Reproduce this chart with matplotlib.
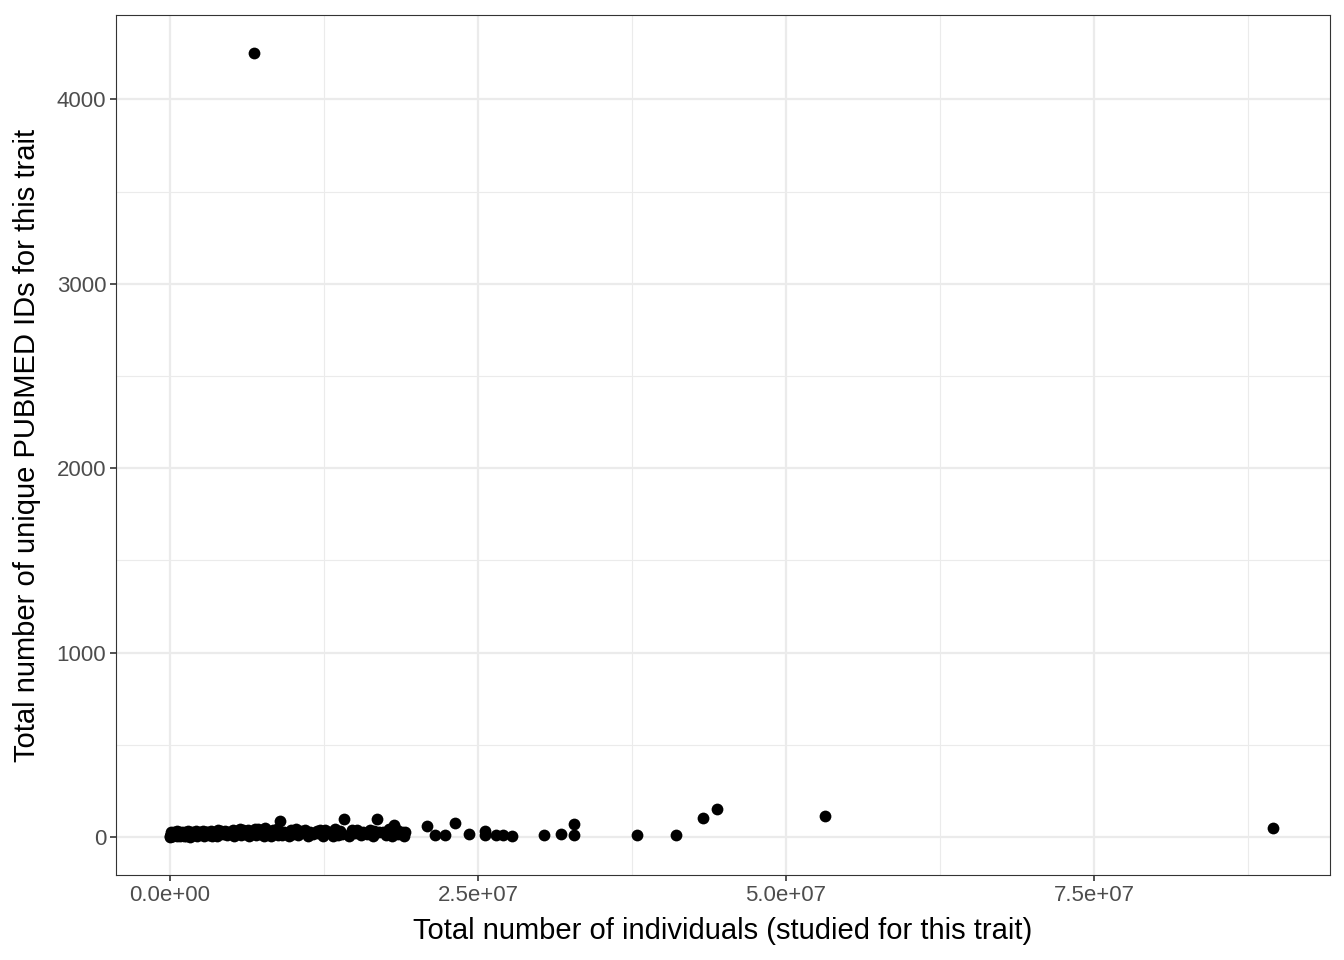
import matplotlib
matplotlib.use("Agg")
import matplotlib.pyplot as plt
from matplotlib.ticker import MultipleLocator

plt.rcParams['font.family'] = ['Liberation Sans', 'DejaVu Sans']

# total individuals (millions) and unique pubmed ids
# dense cluster near zero
BulkX = [0.0, 0.02, 0.05, 0.08, 0.1, 0.15, 0.2, 0.25, 0.3, 0.4, 0.5, 0.6, 0.7,
         0.8, 0.9, 1.0, 1.1, 1.2, 1.3, 1.4, 1.5, 1.6, 1.8, 2.0, 2.2, 2.4, 2.6,
         2.8, 3.0, 3.2, 3.4, 3.6, 3.8, 4.0, 4.3, 4.6, 4.9, 5.2, 5.5, 5.8, 6.1,
         6.4, 6.7, 7.0, 7.3, 7.6, 7.9, 8.2, 8.5, 8.8, 9.1, 9.4, 9.7, 10.0, 10.4,
         10.8, 11.2, 11.6, 12.0, 12.4, 12.8, 13.2, 13.6, 14.0, 14.5, 15.0, 15.5,
         16.0, 16.5, 17.0, 17.5, 18.0, 18.5, 19.0,
         0.05, 0.3, 0.6, 1.0, 1.5, 2.1, 2.7, 3.3, 3.9, 4.5, 5.1, 5.7, 6.3, 6.9,
         7.7, 8.4, 8.9, 10.2, 11.0, 11.9, 12.6, 13.4, 14.1, 15.2, 16.2, 16.8,
         18.2, 18.8,
         0.15, 0.45, 0.75, 1.25, 1.75, 2.3, 2.9, 3.5, 4.15, 4.75, 5.35, 5.95,
         6.55, 7.15, 7.45, 8.05, 8.65, 9.25, 9.85, 10.6, 11.4, 12.2, 13.0, 13.8,
         14.8, 15.7, 16.6, 17.3, 17.8, 18.4, 19.1]
BulkY = [2, 5, 10, 3, 18, 7, 12, 4, 20, 9, 14, 6, 22, 3, 11, 16, 8, 25, 5, 13,
         19, 2, 24, 10, 6, 28, 15, 4, 30, 12, 8, 22, 5, 27, 14, 9, 20, 6, 31, 12,
         18, 4, 26, 10, 15, 7, 21, 3, 28, 12, 9, 24, 6, 17, 11, 30, 4, 14, 20, 8,
         25, 6, 13, 18, 5, 22, 10, 15, 7, 27, 12, 4, 19, 8,
         30, 28, 32, 30, 34, 31, 35, 33, 36, 32, 38, 45, 40, 42, 48, 40, 85, 44,
         38, 35, 40, 42, 100, 38, 38, 100, 65, 30,
         22, 18, 26, 20, 28, 24, 30, 26, 33, 25, 35, 38, 30, 44, 36, 32, 42, 30,
         38, 34, 28, 36, 30, 32, 40, 30, 35, 28, 45, 38, 25]
# scattered points further out
SparseX = [6.82, 18.9, 20.9, 21.5, 22.3, 23.1, 24.3, 25.6, 25.6, 26.5, 27.0,
           27.8, 30.4, 31.7, 32.8, 32.8, 37.9, 41.1, 43.3, 44.4, 53.2, 89.5]
SparseY = [4249, 20, 60, 11, 11, 76, 15, 35, 10, 11, 10, 8, 10, 15, 70, 10,
           10, 11, 103, 152, 114, 49]

AllX = [v * 1e6 for v in BulkX + SparseX]
AllY = BulkY + SparseY

fig = plt.figure(figsize=(13.44, 9.6), dpi=100)
ax = fig.add_axes([0.0863, 0.0885, 0.9033, 0.8955])

ax.scatter(AllX, AllY, s=72, color='black', linewidths=0, zorder=3)

ax.set_xlim(-4.38e6, 9.416e7)
ax.set_ylim(-206, 4455)
ax.xaxis.set_minor_locator(MultipleLocator(1.25e7))
ax.yaxis.set_major_locator(MultipleLocator(1000))
ax.yaxis.set_minor_locator(MultipleLocator(500))
ax.set_xticks([0, 2.5e7, 5e7, 7.5e7])
ax.set_xticklabels(['0.0e+00', '2.5e+07', '5.0e+07', '7.5e+07'])

ax.grid(which='major', color='#EBEBEB', linewidth=1.6, zorder=0)
ax.grid(which='minor', color='#EBEBEB', linewidth=0.8, zorder=0)
ax.set_axisbelow(True)

for sp in ax.spines.values():
    sp.set_color('#333333')
    sp.set_linewidth(0.8)

ax.tick_params(which='major', length=4, width=1.2, color='#333333',
               labelsize=16, labelcolor='#4D4D4D', pad=3)
ax.tick_params(which='minor', length=0)

ax.set_xlabel('Total number of individuals (studied for this trait)',
              fontsize=21, labelpad=8)
ax.set_ylabel('Total number of unique PUBMED IDs for this trait',
              fontsize=21, labelpad=11)

fig.savefig('out.png', dpi=100)
